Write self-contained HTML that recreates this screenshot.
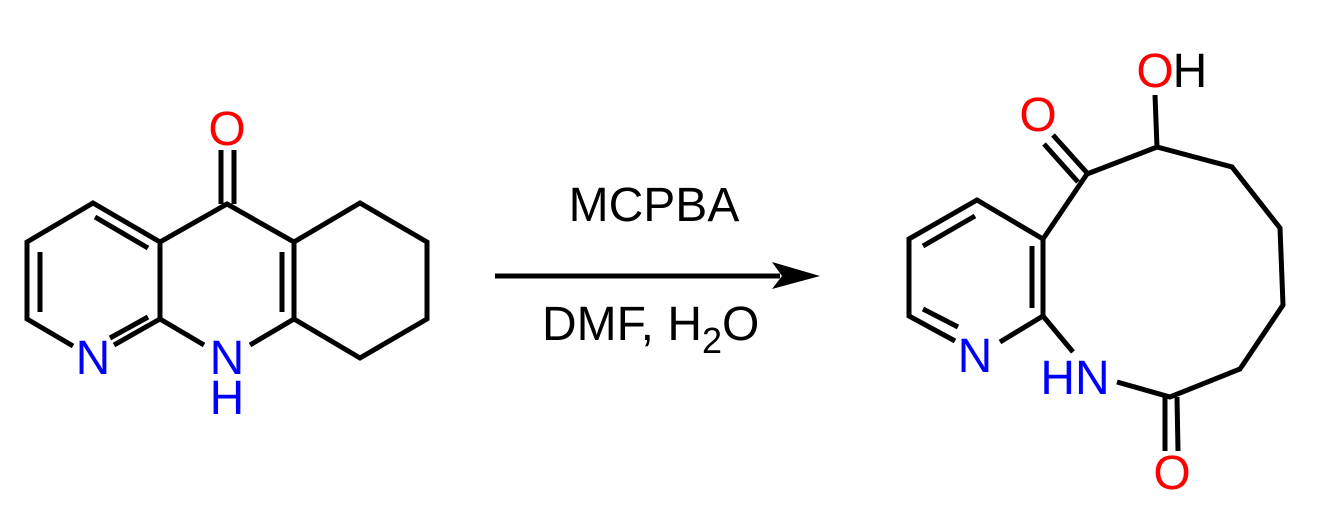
<!DOCTYPE html>
<html><head><meta charset="utf-8"><style>
html,body{margin:0;padding:0;background:#fff;}
svg{display:block;}
text{font-family:"Liberation Sans",Arial,sans-serif;font-size:48px;}
</style></head><body>
<svg width="1320" height="518" viewBox="0 0 1320 518" xmlns="http://www.w3.org/2000/svg">
<g stroke="#000" stroke-width="5" fill="none" stroke-linecap="butt" stroke-linejoin="miter">
<polyline points="73,346 27,319 27,242 93,203 160,242 227,204 294,242 360,203 427,242 427,319 360,358 294,319 250,345"/>
<line x1="160" y1="242" x2="160" y2="319"/>
<line x1="294" y1="242" x2="294" y2="319"/>
<line x1="160" y1="319" x2="204" y2="345"/>
<line x1="160" y1="319" x2="114" y2="345"/>
<line x1="40" y1="252" x2="40" y2="312"/>
<line x1="95" y1="217" x2="148" y2="248"/>
<line x1="110" y1="338" x2="148" y2="317"/>
<line x1="282" y1="252" x2="282" y2="312"/>
<line x1="221" y1="150" x2="221" y2="204"/>
<line x1="234" y1="150" x2="234" y2="204"/>
<polyline points="955,341 909,316 909,239 977,200 1043,239 1043,316 1000,342"/>
<line x1="1043" y1="316" x2="1073" y2="352"/>
<line x1="1043" y1="239" x2="1087" y2="174"/>
<polyline points="1087,174 1157,147 1232,167 1280,228 1283,305 1240,369 1170,397 1117,382"/>
<line x1="1157" y1="147" x2="1155" y2="95"/>
<line x1="923" y1="246" x2="975" y2="216"/>
<line x1="923" y1="309" x2="958" y2="327"/>
<line x1="1032" y1="246" x2="1032" y2="308"/>
<line x1="1088" y1="174" x2="1053" y2="135"/>
<line x1="1078" y1="182" x2="1044" y2="144"/>
<line x1="1165" y1="397" x2="1165" y2="451"/>
<line x1="1177" y1="397" x2="1178" y2="451"/>
<line x1="495" y1="276" x2="780" y2="276"/>
</g>
<polygon points="820,276 772,262 782,276 772,289" fill="#000"/>
<g text-anchor="middle">
<text x="227" y="145" fill="#ff0000">O</text>
<text x="93" y="374" fill="#0000ff">N</text>
<text x="227" y="374" fill="#0000ff">N</text>
<text x="227" y="414" fill="#0000ff">H</text>
<text x="975" y="372" fill="#0000ff">N</text>
<text x="1075" y="394" fill="#0000ff">HN</text>
<text x="1038" y="131" fill="#ff0000">O</text>
<text x="1155" y="87" fill="#ff0000">O</text>
<text x="1190" y="87" fill="#000">H</text>
<text x="1172" y="489" fill="#ff0000">O</text>
<text x="654" y="221" fill="#000">MCPBA</text>
</g>
<text x="542" y="340" fill="#000">DMF, H<tspan font-size="36" dy="13">2</tspan><tspan dy="-13">O</tspan></text>
</svg>
</body></html>
